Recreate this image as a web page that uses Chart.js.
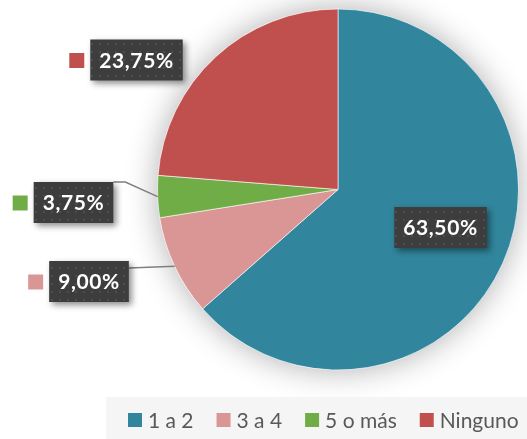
<!DOCTYPE html>
<html><head><meta charset="utf-8">
<script src="https://cdn.jsdelivr.net/npm/chart.js@4/dist/chart.umd.min.js"></script>
<style>html,body{margin:0;padding:0;background:#fff}#wrap{width:527px;height:439px;position:relative}</style>
</head><body><div id="wrap"><canvas id="c" width="527" height="439"></canvas></div>
<script>
const categories = ['1 a 2', '3 a 4', '5 o más', 'Ninguno'];
const values = [63.5, 9.0, 3.75, 23.75];
const valueLabels = ['63,50%', '9,00%', '3,75%', '23,75%'];
const colors = ['#31859C', '#D99694', '#70AD47', '#C0504D'];

// label box centres relative to pie centre (annotation placement, not marks)
const labelPlacement = [
  {dx: 102.5, dy: 38, leader: false, key: false},
  {dx: -249, dy: 92, leader: true, key: true},
  {dx: -264.5, dy: 13, leader: true, key: true},
  {dx: -201.5, dy: -129.5, leader: false, key: true}
];

function makePattern(ctx){
  const p = document.createElement('canvas'); p.width = 8; p.height = 8;
  const g = p.getContext('2d');
  g.fillStyle = '#3D3D3D'; g.fillRect(0,0,8,8);
  g.fillStyle = '#4D4D4D'; g.fillRect(3,3,2,2);
  return ctx.createPattern(p, 'repeat');
}

const shadowPlugin = {
  id: 'pieShadow',
  beforeDatasetsDraw(chart){
    const arc = chart.getDatasetMeta(0).data[0];
    const {x, y, outerRadius} = arc.getProps(['x','y','outerRadius'], true);
    const ctx = chart.ctx;
    ctx.save();
    ctx.shadowColor = 'rgba(0,0,0,0.32)';
    ctx.shadowBlur = 32;
    ctx.beginPath(); ctx.arc(x, y, outerRadius, 0, Math.PI*2);
    ctx.fillStyle = '#fff'; ctx.fill();
    ctx.restore();
  }
};

const labelPlugin = {
  id: 'boxLabels',
  afterDatasetsDraw(chart){
    const ctx = chart.ctx;
    const meta = chart.getDatasetMeta(0);
    const pat = makePattern(ctx);
    ctx.save();
    ctx.font = 'bold 21px Lato';
    ctx.letterSpacing = '0.6px';
    meta.data.forEach((arc, i) => {
      const p = arc.getProps(['x','y','startAngle','endAngle','outerRadius'], true);
      const mid = (p.startAngle + p.endAngle)/2;
      const pl = labelPlacement[i];
      const cx = p.x + pl.dx, cy = p.y + pl.dy;
      const txt = valueLabels[i];
      const tw = ctx.measureText(txt).width;
      const bw = tw + 18, bh = 41;
      const bx = cx - bw/2, by = cy - bh/2;
      if (pl.leader){
        const ex = p.x + Math.cos(mid)*p.outerRadius;
        const ey = p.y + Math.sin(mid)*p.outerRadius;
        ctx.strokeStyle = '#7F7F7F'; ctx.lineWidth = 1.5;
        ctx.beginPath();
        if (i === 2){ ctx.moveTo(bx+bw, by); ctx.lineTo(bx+bw+12, by); ctx.lineTo(ex, ey); }
        else { ctx.moveTo(bx+bw, by+7); ctx.lineTo(ex, ey); }
        ctx.stroke();
      }
      ctx.save();
      ctx.shadowColor = 'rgba(0,0,0,0.45)'; ctx.shadowBlur = 6; ctx.shadowOffsetX = 3; ctx.shadowOffsetY = 3;
      ctx.fillStyle = pat; ctx.fillRect(bx, by, bw, bh);
      ctx.restore();
      ctx.fillStyle = '#fff'; ctx.textAlign = 'center'; ctx.textBaseline = 'middle';
      ctx.fillText(txt, cx, cy + 1);
      if (pl.key){
        ctx.fillStyle = colors[i];
        ctx.fillRect(bx - 21, cy - 7, 15, 15);
      }
    });
    ctx.restore();
  }
};

const legendPlugin = {
  id: 'customLegend',
  afterDraw(chart){
    const ctx = chart.ctx;
    ctx.save();
    ctx.fillStyle = '#F5F5F5';
    ctx.fillRect(106, 397, 421, 42);
    ctx.font = '21px Lato';
    ctx.textBaseline = 'middle';
    let x = 128;
    const y = 420;
    categories.forEach((c, i) => {
      ctx.fillStyle = colors[i];
      ctx.fillRect(x, y - 7, 14, 14);
      ctx.fillStyle = '#595959';
      ctx.fillText(c, x + 20, y + 1);
      x += 20 + ctx.measureText(c).width + 23;
    });
    ctx.restore();
  }
};

new Chart(document.getElementById('c'), {
  type: 'pie',
  data: { labels: categories, datasets: [{ data: values, backgroundColor: colors, borderColor: 'rgba(255,255,255,0.6)', borderWidth: 1 }] },
  options: {
    responsive: false, animation: false, devicePixelRatio: 1,
    layout: { padding: { left: 157, right: 8, top: 8, bottom: 68 } },
    plugins: { legend: { display: false }, tooltip: { enabled: false } }
  },
  plugins: [shadowPlugin, labelPlugin, legendPlugin]
});
</script></body></html>
